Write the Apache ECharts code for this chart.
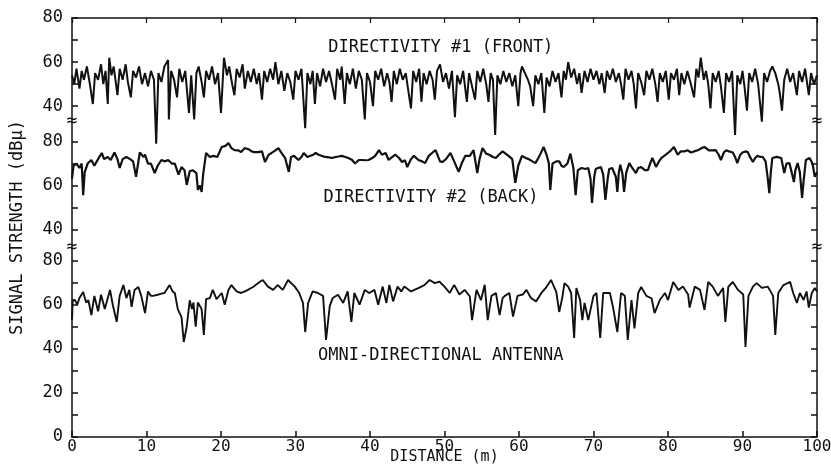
<!DOCTYPE html>
<html>
<head>
<meta charset="utf-8">
<script src="https://cdn.jsdelivr.net/npm/echarts@6/dist/echarts.min.js"></script>
<style>
  html, body { margin: 0; padding: 0; background: #fff; }
  #chart { width: 831px; height: 464px; }
</style>
</head>
<body>
<div id="chart"></div>
<script>
// distance (m) ticks on the x axis
const distanceTicks = [0, 10, 20, 30, 40, 50, 60, 70, 80, 90, 100];
// tick labels shown on each stacked panel (dBu)
const frontTicks = [40, 60, 80];
const backTicks = [40, 60, 80];
const omniTicks = [0, 20, 40, 60, 80];

// [distance m, signal dBu]
const frontTrace = [
  [0,54],[0.3,50],[0.6,57],[1,48],[1.3,56],[1.6,52],[2,58],[2.4,50],[2.8,41],[3.1,55],[3.5,52],[3.9,59],
  [4.2,50],[4.5,56],[4.8,41],[5,62],[5.3,54],[5.6,58],[6.1,45],[6.4,57],[6.8,52],[7.2,59],[7.5,51],[7.9,44],
  [8.2,56],[8.6,53],[9,58],[9.4,50],[9.8,55],[10.2,49],[10.6,56],[11,52],[11.3,23],[11.6,55],[12,51],[12.4,58],
  [12.9,61],[13,34],[13.3,56],[13.7,52],[14.1,44],[14.4,57],[14.8,51],[15.2,56],[15.7,37],[16,54],[16.4,34],
  [16.7,55],[17,58],[17.4,51],[17.7,44],[18,56],[18.4,52],[18.8,58],[19.2,50],[19.6,55],[20,37],[20.4,62],
  [20.8,54],[21.1,58],[21.5,50],[21.8,45],[22.1,57],[22.5,53],[22.9,59],[23.2,48],[23.6,56],[24,51],[24.4,57],
  [24.8,50],[25.1,55],[25.5,43],[25.8,56],[26.2,51],[26.6,57],[27,52],[27.3,60],[27.7,50],[28.1,56],[28.5,47],
  [28.9,55],[29.3,51],[29.7,43],[30,56],[30.4,52],[30.8,57],[31.3,30],[31.6,55],[32,50],[32.3,56],[32.6,41],
  [32.9,55],[33.3,49],[33.7,57],[34.1,51],[34.5,56],[34.9,50],[35.3,43],[35.6,57],[36,52],[36.2,58],[36.6,41],
  [36.9,55],[37.3,50],[37.7,57],[38.1,48],[38.5,56],[38.9,52],[39.3,34],[39.6,55],[40,51],[40.4,40],[40.7,56],
  [41.1,52],[41.5,57],[41.9,49],[42.3,55],[42.6,51],[42.9,42],[43.2,56],[43.6,50],[44,57],[44.4,52],[44.8,55],
  [45.1,48],[45.5,39],[45.8,56],[46.2,51],[46.6,57],[46.9,42],[47.2,55],[47.6,50],[48,56],[48.4,52],[48.7,43],
  [49,56],[49.4,59],[49.8,51],[50.2,55],[50.6,48],[51,56],[51.4,35],[51.7,54],[52.1,50],[52.5,56],[53,42],
  [53.3,55],[53.7,49],[54.1,43],[54.4,56],[54.8,51],[55.2,57],[55.6,50],[55.9,42],[56.2,55],[56.5,52],[56.8,27],
  [57.1,54],[57.5,50],[57.9,56],[58.3,51],[58.7,55],[59.1,49],[59.5,54],[59.9,40],[60.2,55],[60.4,58],[60.8,55],
  [61.2,52],[61.5,49],[61.9,40],[62.2,54],[62.6,50],[63,55],[63.4,37],[63.7,53],[64.1,49],[64.5,56],[64.9,51],
  [65.3,55],[65.7,44],[66,56],[66.3,52],[66.6,60],[67,53],[67.4,57],[67.8,50],[68.1,55],[68.4,46],[68.8,56],
  [69.2,51],[69.6,57],[70,52],[70.4,56],[70.8,50],[71.1,55],[71.5,46],[71.8,56],[72.2,52],[72.6,57],[73,51],
  [73.4,55],[73.7,50],[74,43],[74.3,57],[74.7,52],[75.1,56],[75.4,50],[75.7,39],[76,55],[76.4,51],[76.8,45],
  [77.1,56],[77.5,52],[77.9,57],[78.3,50],[78.6,42],[78.9,55],[79.3,51],[79.7,56],[80.1,43],[80.4,55],[80.8,52],
  [81.2,57],[81.5,45],[81.8,55],[82.2,50],[82.6,56],[83,51],[83.5,44],[83.8,57],[84.1,53],[84.4,62],[84.8,52],
  [85.1,56],[85.4,50],[85.7,39],[86,55],[86.4,51],[86.8,56],[87.1,49],[87.5,37],[87.8,55],[88.2,51],[88.6,56],
  [89,27],[89.3,54],[89.7,50],[90,56],[90.3,48],[90.6,38],[90.9,55],[91.3,51],[91.7,57],[92.1,50],[92.6,33],
  [92.9,55],[93.3,51],[93.7,56],[94,58],[94.4,55],[94.8,50],[95,46],[95.3,38],[95.6,52],[96,57],[96.4,51],
  [96.8,55],[97.3,45],[97.6,56],[98,51],[98.4,57],[98.9,45],[99.2,55],[99.6,50],[100,54]
];

const backTrace = [
  [0,63],[0.2,69],[0.6,70],[1,68],[1.3,70],[1.5,55.7],[1.7,66],[2.1,70],[2.6,71.6],[3,69],[3.5,72],[4,74.8],
  [4.3,72],[4.8,73],[5.2,71.6],[5.7,75],[6.1,72],[6.4,68],[6.8,72],[7.3,73],[7.8,72],[8.2,71],[8.6,64],[9.1,75],
  [9.6,73],[9.8,74],[10.2,70],[10.6,70],[11.1,65.7],[11.5,69],[12,71.6],[12.5,71],[12.9,71.6],[13.4,70],[13.8,70],
  [14.3,65],[14.7,68.4],[15.1,67],[15.4,60.3],[15.8,66.5],[16.2,67],[16.7,65.7],[16.9,58],[17.2,60],[17.4,57.1],
  [17.6,65],[18,74.8],[18.5,73],[19,73.5],[19.5,73],[20.1,77.5],[20.6,78],[21,79.3],[21.4,77],[21.8,76.1],
  [22.3,76],[22.7,75.2],[23.2,77],[23.7,76.5],[24.1,75.5],[24.5,75.2],[25,75.2],[25.5,75.5],[25.9,70.7],[26.4,74],
  [26.8,74.8],[27.3,76],[27.7,77],[28.1,75],[28.6,72.6],[29.1,66.2],[29.4,73],[29.8,73.5],[30.4,71.6],[30.8,73],
  [31.1,74.8],[31.6,73],[32,73.5],[32.4,74],[32.7,74.8],[33.1,74],[33.5,73.5],[34,73],[34.5,72.8],[34.9,72.5],
  [35.4,73],[35.8,73.2],[36.2,73.5],[36.7,73],[37.1,72.5],[37.6,71.6],[38,70],[38.5,71.6],[38.9,71.6],[39.4,71.5],
  [39.8,71.6],[40.3,72.5],[40.7,73.5],[41.2,76.1],[41.6,74],[42.1,74.8],[42.5,71.6],[43,73],[43.4,74],[43.9,72.5],
  [44.3,70.7],[44.7,71.5],[45,68.4],[45.5,72],[45.9,73.5],[46.5,71.6],[47,71],[47.4,70.2],[47.9,73.5],[48.4,75],
  [48.8,76.1],[49.4,71],[49.7,70.7],[50.2,72],[50.8,74.8],[51.3,71],[51.9,66.2],[52.3,70],[52.8,73.5],[53.4,73.5],
  [53.9,76.1],[54.4,65.7],[54.7,72],[55.1,77],[55.6,74.5],[56,74],[56.5,73],[56.9,72.5],[57.3,74],[57.8,75.5],
  [58.2,74.5],[58.6,73.5],[59.1,72],[59.5,61.2],[59.9,69],[60.4,73.5],[60.9,72.5],[61.3,72],[61.8,71],[62.2,70.2],
  [62.6,72.5],[62.9,74.5],[63.3,77.5],[63.7,74],[64,70.2],[64.2,58],[64.5,70],[65,71],[65.4,71],[65.7,69],
  [66,68.4],[66.5,70],[66.9,74.5],[67.3,68],[67.6,55.7],[67.9,67],[68.4,68],[68.9,67.5],[69.3,68],[69.6,63],
  [69.8,52.1],[70.1,64],[70.3,67.5],[70.6,68],[71,68.4],[71.3,65],[71.6,53.5],[71.9,63],[72.1,67.5],[72.5,68],
  [72.7,68.4],[73,64],[73.2,57.1],[73.4,66],[73.6,69.5],[73.9,65],[74.1,57.1],[74.4,66],[74.8,70.2],[75.2,68],
  [75.7,65.7],[76,68],[76.4,68.4],[76.9,67],[77.3,67],[77.6,70],[77.9,72.5],[78.4,68.5],[78.8,71],[79.1,72.5],
  [79.7,74],[80.4,76],[80.8,77.5],[81.3,74],[81.7,75.5],[82.2,75.5],[82.6,76],[83.1,75],[83.5,75.5],[84,76],
  [84.5,77],[84.9,77.5],[85.5,76],[86,76],[86.4,76.1],[86.8,74],[87.1,71.6],[87.5,75],[87.8,76],[88.2,75.5],
  [88.7,75],[89,73],[89.3,70.2],[89.7,74],[90,75],[90.4,75.5],[90.7,75.2],[91,73],[91.4,70.7],[91.7,72.5],
  [92,73.5],[92.4,73],[92.7,73],[93.1,71],[93.4,63],[93.6,56.6],[93.8,66],[94,72.5],[94.6,73],[95.2,72.5],
  [95.6,65.7],[95.9,70],[96.3,70.2],[96.6,66],[96.9,61.6],[97.1,67],[97.4,70.2],[97.7,66],[98,54.4],[98.2,62],
  [98.5,71.6],[99,72.5],[99.4,70],[99.7,64],[100,66]
];

const omniTrace = [
  [0,53],[0.1,62],[0.4,62.1],[0.7,60],[1,63],[1.5,65.8],[1.9,61],[2.2,62],[2.6,55.3],[3,64],[3.5,57],[3.9,64.5],
  [4.4,58],[4.8,63],[5.1,66.7],[5.5,59.5],[6,52.2],[6.4,64],[6.9,68.9],[7.3,63],[7.7,66.7],[8,59],[8.4,66.7],
  [8.9,68],[9.3,64],[9.8,56.2],[10.2,66],[10.6,64],[10.9,64],[11.5,64.5],[12,65],[12.4,65.3],[13.1,68.9],
  [13.5,66],[13.8,65.3],[14.2,58],[14.7,54.4],[15,43.1],[15.4,50],[15.8,62],[16.1,58],[16.3,61],[16.6,50],
  [16.9,61],[17.4,58],[17.7,46.3],[18,62.5],[18.5,63],[18.9,66.7],[19.4,62.5],[20.1,65.3],[20.5,60],[21,66.7],
  [21.4,68.9],[22.1,66],[22.7,65.3],[23.2,66],[23.6,66.7],[24.3,68],[25,69.8],[25.6,71.2],[26.3,68.2],[27,66.7],
  [27.6,68.9],[28.3,66.7],[29,71.2],[29.9,68.2],[30.5,65.3],[31,60.8],[31.3,47.6],[31.7,60.8],[32.3,66],[33,65.3],
  [33.7,64],[34.1,44],[34.6,59.5],[35,63],[35.7,64.5],[36.4,60.8],[37,66],[37.5,52.2],[37.9,65.3],[38.6,60],
  [39.3,66.7],[39.9,65.3],[40.6,66.7],[41.1,60],[41.7,68.2],[42.2,60.8],[42.6,69],[43.1,61.5],[43.7,68.2],
  [44.2,66],[44.6,68.2],[45.5,66],[46.4,67.4],[47.3,68.9],[48,71.2],[48.7,69.8],[49.3,70.5],[50,68.2],[50.7,65.3],
  [51.3,69],[52,64.6],[52.7,66.7],[53.4,63.7],[53.7,53],[54,60],[54.3,66.7],[54.9,62.1],[55.4,69],[55.8,53],
  [56.3,64],[56.9,65.3],[57.4,55.3],[57.8,63],[58.1,64],[58.7,65.3],[59.2,54.6],[59.8,64],[60.5,64.6],[61,66.7],
  [61.6,63],[62.3,61.5],[63,65.3],[63.6,67.6],[64.3,71.2],[65,65.8],[65.4,56.7],[65.8,63],[66.1,69.8],[66.6,68.2],
  [67,65.3],[67.4,44.9],[67.7,67.6],[68.2,62.1],[68.5,53],[68.8,60.8],[69.3,53],[70,64],[70.4,65.3],[70.9,44.9],
  [71.3,65.3],[72.2,65.3],[72.6,59.2],[73.2,47.6],[73.7,65.3],[74.2,64],[74.6,44],[75.1,62.1],[75.5,49.2],
  [76,65.3],[76.4,68],[77.1,64],[77.8,62.8],[78.2,56.2],[78.9,62.1],[79.6,65.3],[80,62.1],[80.7,70.3],[81.4,66.7],
  [82,68.2],[82.7,64.6],[82.9,58.7],[83.6,68.2],[84.3,66.7],[84.9,57.6],[85.4,70.3],[86,68.2],[86.7,64],
  [87.4,67.6],[87.7,52.2],[88.1,68.2],[88.7,70.3],[89.4,66.7],[90.1,64.6],[90.4,40.8],[90.8,64],[91.4,68.2],
  [91.9,69.8],[92.6,67.6],[93.4,68.2],[94.1,64],[94.4,46.3],[94.8,65.3],[95.5,68.9],[96.4,70.3],[96.8,65.3],
  [97.3,60.8],[97.7,65.3],[98.2,62.1],[98.6,66],[98.9,58.7],[99.3,65.3],[99.7,67.6],[100,66]
];

// the three panels share one stacked value axis, each lifted by its own offset
const FRONT_OFFSET = 110;
const BACK_OFFSET = 54;
const OMNI_OFFSET = 0;
const AXIS_TOP = 190;
const BREAKS = [143, 86];

const lift = (trace, off) => trace.map(p => [p[0], p[1] + off]);

const labelValues = [
  ...omniTicks.map(v => v + OMNI_OFFSET),
  ...backTicks.map(v => v + BACK_OFFSET),
  ...frontTicks.map(v => v + FRONT_OFFSET)
];
const tickValues = [];
for (let v = 0; v <= 80; v += 10) tickValues.push(v + OMNI_OFFSET);
for (let v = 40; v <= 80; v += 10) tickValues.push(v + BACK_OFFSET);
for (let v = 40; v <= 80; v += 10) tickValues.push(v + FRONT_OFFSET);

const realValue = (v) => {
  if (v >= FRONT_OFFSET + 30) return v - FRONT_OFFSET;
  if (v >= BACK_OFFSET + 30) return v - BACK_OFFSET;
  return v - OMNI_OFFSET;
};

const FONT = "'DejaVu Sans Mono', monospace";
const INK = "#111";

const chart = echarts.init(document.getElementById("chart"), null, { renderer: "canvas" });

const frameLine = { show: true, onZero: false, lineStyle: { color: INK, width: 1.5 } };

const yAxisBase = {
  type: "value",
  min: 0,
  max: AXIS_TOP,
  splitLine: { show: false },
  axisLine: frameLine,
  axisTick: { show: true, inside: true, length: 6, customValues: tickValues, lineStyle: { color: INK, width: 1.5 } },
};

const option = {
  animation: false,
  backgroundColor: "#fff",
  grid: { left: 72, right: 14, top: 18, bottom: 27, containLabel: false, outerBoundsMode: "none" },
  xAxis: [
    {
      type: "value",
      min: 0,
      max: 100,
      interval: 10,
      position: "bottom",
      name: "DISTANCE (m)",
      nameLocation: "middle",
      nameGap: 13,
      nameMoveOverlap: false,
      nameTextStyle: { fontFamily: FONT, fontSize: 15, color: INK },
      splitLine: { show: false },
      axisLine: frameLine,
      axisTick: { inside: true, length: 6, lineStyle: { color: INK, width: 1.5 } },
      axisLabel: {
        margin: 2, fontFamily: FONT, fontSize: 16, color: INK,
        customValues: distanceTicks, formatter: v => String(v)
      }
    },
    {
      type: "value",
      min: 0,
      max: 100,
      interval: 10,
      position: "top",
      splitLine: { show: false },
      axisLine: frameLine,
      axisTick: { inside: true, length: 5, lineStyle: { color: INK, width: 1.2 } },
      axisLabel: { show: false }
    }
  ],
  yAxis: [
    Object.assign({}, yAxisBase, {
      position: "left",
      name: "SIGNAL STRENGTH (dB\u03bc)",
      nameLocation: "middle",
      nameGap: 46,
      nameMoveOverlap: false,
      nameTextStyle: { fontFamily: FONT, fontSize: 17, color: INK },
      axisLabel: {
        margin: 9, fontFamily: FONT, fontSize: 17, color: INK,
        customValues: labelValues, formatter: v => String(realValue(v))
      }
    }),
    Object.assign({}, yAxisBase, {
      position: "right",
      axisLabel: { show: false }
    })
  ],
  series: [
    {
      name: "DIRECTIVITY #1 (FRONT)", type: "line", data: lift(frontTrace, FRONT_OFFSET),
      showSymbol: false, lineStyle: { color: INK, width: 2 }, color: INK
    },
    {
      name: "DIRECTIVITY #2 (BACK)", type: "line", data: lift(backTrace, BACK_OFFSET),
      showSymbol: false, lineStyle: { color: INK, width: 2.2 }, color: INK
    },
    {
      name: "OMNI-DIRECTIONAL ANTENNA", type: "line", data: lift(omniTrace, OMNI_OFFSET),
      showSymbol: false, lineStyle: { color: INK, width: 1.9 }, color: INK
    }
  ]
};

chart.setOption(option);

// captions and axis-break marks, placed through the chart's own scales
const px = (d, v) => chart.convertToPixel({ gridIndex: 0 }, [d, v]);
const captions = [
  { text: "DIRECTIVITY #1 (FRONT)", at: [49.5, 176.5] },
  { text: "DIRECTIVITY #2 (BACK)", at: [48.2, 108.5] },
  { text: "OMNI-DIRECTIONAL ANTENNA", at: [49.5, 37] }
];
const graphics = captions.map(c => {
  const p = px(c.at[0], c.at[1]);
  return {
    type: "text", x: p[0], y: p[1],
    style: { text: c.text, fontFamily: FONT, fontSize: 17, fill: INK, align: "center", verticalAlign: "middle" }
  };
});
BREAKS.forEach(b => {
  [0, 100].forEach(d => {
    const p = px(d, b);
    graphics.push({
      type: "text", x: p[0], y: p[1],
      style: {
        text: "\u2248", fontFamily: FONT, fontSize: 18, fill: INK,
        align: "center", verticalAlign: "middle", backgroundColor: "#fff", padding: [1, 0]
      }
    });
  });
});
chart.setOption({ graphic: graphics });
</script>
</body>
</html>
